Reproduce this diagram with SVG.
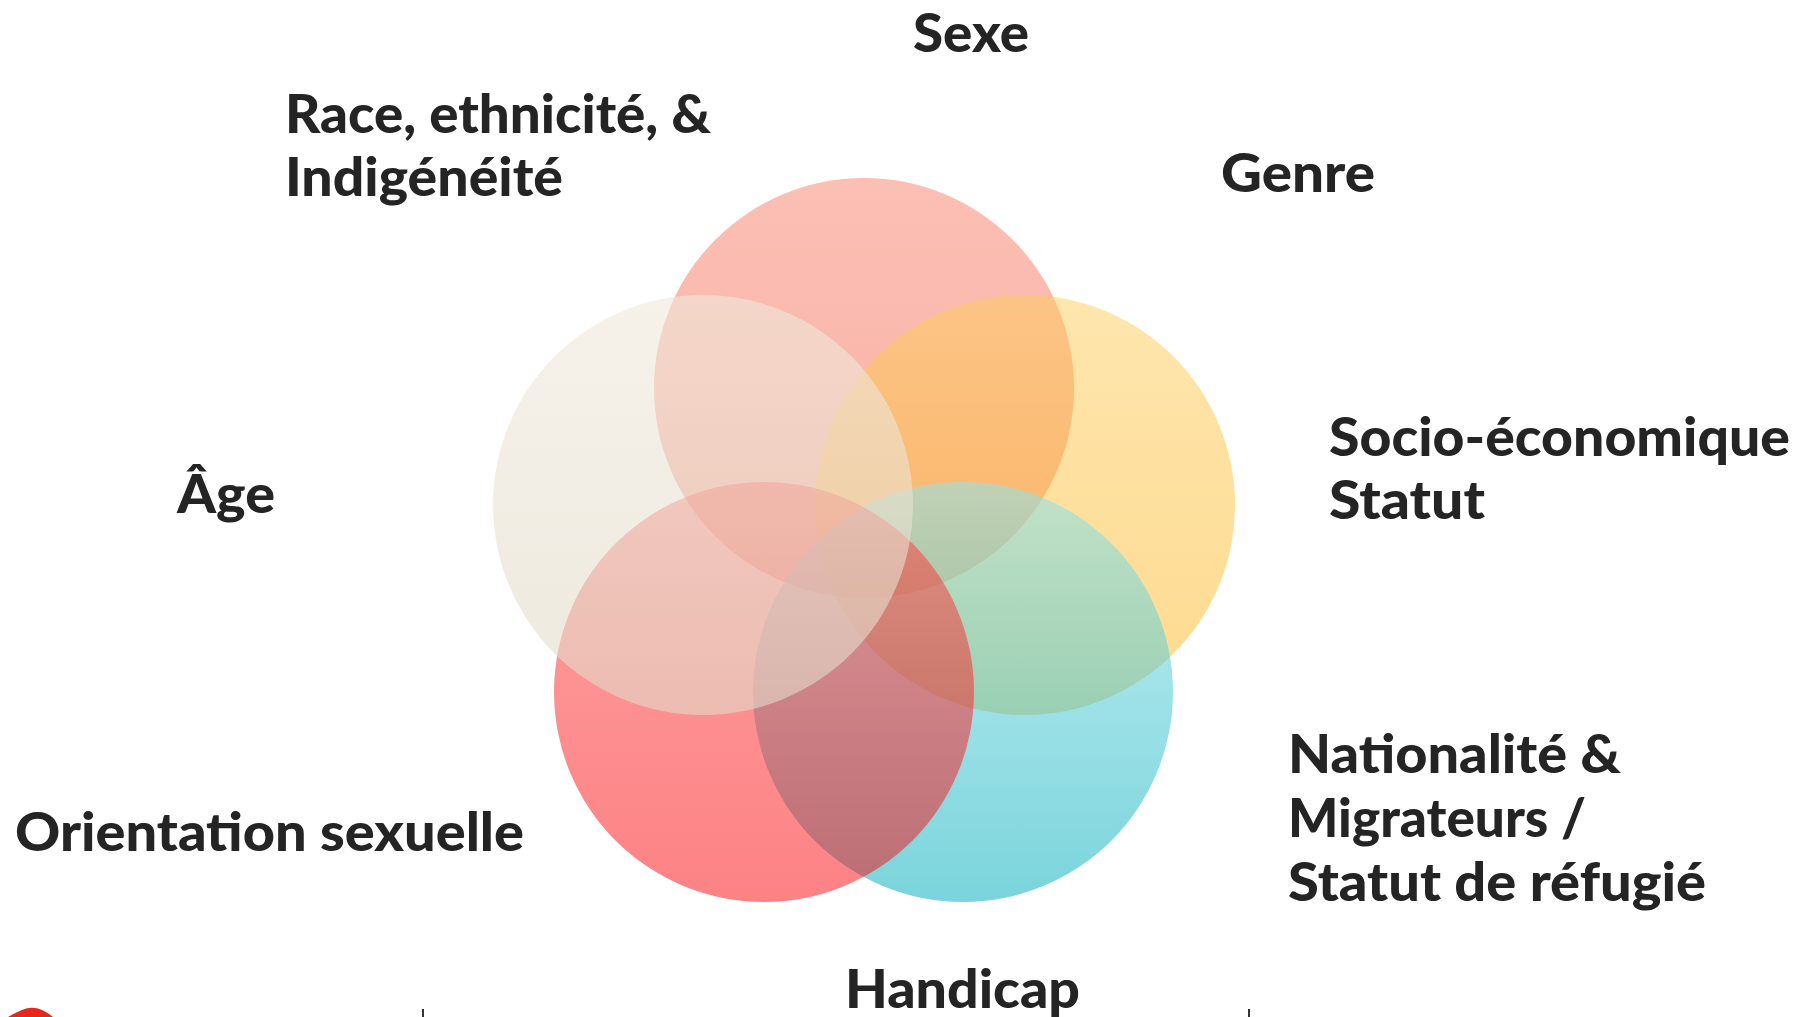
<svg xmlns="http://www.w3.org/2000/svg" width="1796" height="1017" viewBox="0 0 1796 1017">
<defs>
<style>
.lbl{font-family:"Lato","Open Sans","Liberation Sans",sans-serif;font-weight:900;font-size:53px;fill:#242424}
.tick{stroke:#333;stroke-width:2}
</style>
<linearGradient id="gSexe" x1="0" y1="0" x2="0" y2="1"><stop offset="0" stop-color="#f98a76"/><stop offset="1" stop-color="#f36e55"/></linearGradient>
<linearGradient id="gGenre" x1="0" y1="0" x2="0" y2="1"><stop offset="0" stop-color="#fdcd5c"/><stop offset="1" stop-color="#fcb41e"/></linearGradient>
<linearGradient id="gNat" x1="0" y1="0" x2="0" y2="1"><stop offset="0" stop-color="#92e3eb"/><stop offset="1" stop-color="#0db1be"/></linearGradient>
<linearGradient id="gOri" x1="0" y1="0" x2="0" y2="1"><stop offset="0" stop-color="#fd4141"/><stop offset="1" stop-color="#fa050a"/></linearGradient>
<linearGradient id="gRace" x1="0" y1="0" x2="0" y2="1"><stop offset="0" stop-color="#f0e9dc"/><stop offset="1" stop-color="#e1dac8"/></linearGradient>
</defs>
<rect width="1796" height="1017" fill="#ffffff"/>
<g id="sexe"><circle cx="864" cy="388" r="210" fill="url(#gSexe)" fill-opacity="0.55"/></g>
<g id="genre"><circle cx="1025" cy="505" r="210" fill="url(#gGenre)" fill-opacity="0.5"/></g>
<g id="nationalite"><circle cx="963" cy="692" r="210" fill="url(#gNat)" fill-opacity="0.55"/></g>
<g id="orientation"><circle cx="764" cy="692" r="210" fill="url(#gOri)" fill-opacity="0.5"/></g>
<g id="race"><circle cx="703" cy="505" r="210" fill="url(#gRace)" fill-opacity="0.6"/></g>
<g id="labels">
<text class="lbl" x="913" y="52" textLength="116" lengthAdjust="spacingAndGlyphs">Sexe</text>
<text class="lbl" x="285" y="133" textLength="426" lengthAdjust="spacingAndGlyphs">Race, ethnicité, &amp;</text>
<text class="lbl" x="285" y="196" textLength="278" lengthAdjust="spacingAndGlyphs">Indigénéité</text>
<text class="lbl" x="1221" y="192" textLength="154" lengthAdjust="spacingAndGlyphs">Genre</text>
<text class="lbl" x="1329" y="456" textLength="461" lengthAdjust="spacingAndGlyphs">Socio-économique</text>
<text class="lbl" x="1329" y="519" textLength="156" lengthAdjust="spacingAndGlyphs">Statut</text>
<text class="lbl" x="177" y="513" textLength="98" lengthAdjust="spacingAndGlyphs">Âge</text>
<text class="lbl" x="1288" y="773" textLength="333" lengthAdjust="spacingAndGlyphs">Nationalité &amp;</text>
<text class="lbl" x="1288" y="837" textLength="298" lengthAdjust="spacingAndGlyphs">Migrateurs /</text>
<text class="lbl" x="1288" y="901" textLength="418" lengthAdjust="spacingAndGlyphs">Statut de réfugié</text>
<text class="lbl" x="15" y="851" textLength="509" lengthAdjust="spacingAndGlyphs">Orientation sexuelle</text>
<text class="lbl" x="845" y="1008" textLength="235" lengthAdjust="spacingAndGlyphs">Handicap</text>
</g>
<g id="footer">
<path d="M8,1017 Q18,1011 26,1008.5 Q32,1007 38,1008.5 Q46,1011 53,1017 Z" fill="#e8261c"/>
<line class="tick" x1="423" y1="1009" x2="423" y2="1017"/>
<line class="tick" x1="1249" y1="1009" x2="1249" y2="1017"/>
</g>
</svg>
